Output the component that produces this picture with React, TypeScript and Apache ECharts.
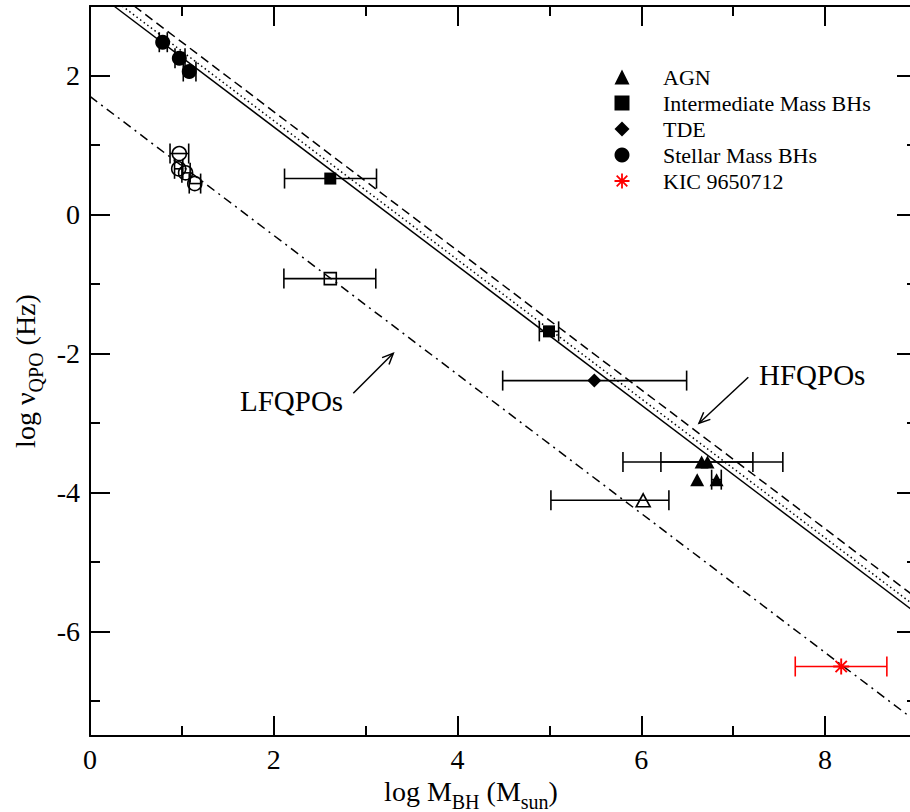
import React, { useEffect, useRef } from 'react';
import * as echarts from 'echarts';

const FONT = "'Liberation Serif', 'Times New Roman', serif";

// axis ticks
const xMajorTicks = [0, 2, 4, 6, 8];
const xMinorTicks = [1, 3, 5, 7];
const yMajorTicks = [-6, -4, -2, 0, 2];
const yMinorTicks = [-7, -5, -3, -1, 1];

// fit lines (endpoints in data units)
const hfSolid = [[0.26, 3], [9, -5.74]];
const hfDotted = [[0.35, 3], [9, -5.65]];
const hfDashed = [[0.48, 3], [9, -5.52]];
const lfDashDot = [[0, 1.7], [9, -7.3]];

// points [logM, logNu]
const agnFilled = [[6.656, -3.558], [6.72, -3.558], [6.608, -3.813], [6.819, -3.813]];
const agnOpen = [[6.02, -4.11]];
const imbhFilled = [[2.615, 0.518], [4.995, -1.68]];
const imbhOpen = [[2.615, -0.921]];
const tdeFilled = [[5.488, -2.388]];
const stellarFilled = [[0.791, 2.479], [0.972, 2.249], [1.08, 2.058]];
const stellarOpen = [[0.972, 0.878], [0.965, 0.658], [1.04, 0.6], [1.14, 0.446]];
const kicPoint = [[8.175, -6.5]];

// error bars [x, y, xLow, xHigh]
const errBlack = [
  [0.791, 2.479, 0.754, 0.841],
  [0.972, 2.249, 0.925, 1.034],
  [1.08, 2.058, 1.015, 1.153],
  [0.972, 0.878, 0.871, 1.074],
  [0.965, 0.658, 0.92, 1.01],
  [1.04, 0.6, 1.0, 1.09],
  [1.14, 0.446, 1.08, 1.204],
  [2.615, 0.518, 2.117, 3.118],
  [4.995, -1.68, 4.89, 5.1],
  [2.615, -0.921, 2.11, 3.11],
  [5.488, -2.388, 4.491, 6.493],
  [6.671, -3.558, 5.8, 7.54],
  [6.714, -3.558, 6.213, 7.214],
  [6.819, -3.813, 6.765, 6.87],
  [6.02, -4.11, 5.016, 6.3],
];
const errRed = [[8.175, -6.5, 7.675, 8.672]];

const legendNames = ['AGN', 'Intermediate Mass BHs', 'TDE', 'Stellar Mass BHs', 'KIC 9650712'];

const STAR =
  'path://M-1.2,-10L1.2,-10L1.2,10L-1.2,10Z M-10,-1.2L10,-1.2L10,1.2L-10,1.2Z M6.22,7.92L-7.92,-6.22L-6.22,-7.92L7.92,6.22Z M-6.22,7.92L-7.92,6.22L6.22,-7.92L7.92,-6.22Z';

function errSeries(data: number[][], color: string) {
  return {
    type: 'custom',
    name: 'err-' + color,
    data,
    encode: { x: [0, 2, 3], y: 1 },
    silent: true,
    z: 3,
    renderItem: (params: any, api: any) => {
      const y = api.value(1);
      const p1 = api.coord([api.value(2), y]);
      const p2 = api.coord([api.value(3), y]);
      const st = { stroke: color, lineWidth: 1.6 };
      return {
        type: 'group',
        children: [
          { type: 'line', shape: { x1: p1[0], y1: p1[1], x2: p2[0], y2: p2[1] }, style: st },
          { type: 'line', shape: { x1: p1[0], y1: p1[1] - 10, x2: p1[0], y2: p1[1] + 10 }, style: st },
          { type: 'line', shape: { x1: p2[0], y1: p2[1] - 10, x2: p2[0], y2: p2[1] + 10 }, style: st },
        ],
      };
    },
  };
}

function lineSeries(name: string, data: number[][], type: any) {
  return {
    type: 'line',
    name,
    data,
    symbol: 'none',
    silent: true,
    z: 2,
    lineStyle: { color: '#000', width: 1.5, type },
  };
}

function scatter(name: string, data: number[][], symbol: string, size: any, filled: boolean, color = '#000') {
  return {
    type: 'scatter',
    name,
    data,
    symbol,
    symbolSize: size,
    z: 5,
    itemStyle: filled
      ? { color, borderWidth: 0, opacity: 1 }
      : { color: 'rgba(0,0,0,0)', borderColor: color, borderWidth: 1.6, opacity: 1 },
  };
}

function arrow(x1: number, y1: number, x2: number, y2: number) {
  const a = Math.atan2(y2 - y1, x2 - x1);
  const len = 12;
  const ang = 0.42;
  const b1 = [x2 - len * Math.cos(a - ang), y2 - len * Math.sin(a - ang)];
  const b2 = [x2 - len * Math.cos(a + ang), y2 - len * Math.sin(a + ang)];
  const st = { stroke: '#000', lineWidth: 1.5, fill: 'none' };
  return [
    { type: 'line', shape: { x1, y1, x2, y2 }, style: st },
    { type: 'polyline', shape: { points: [b1, [x2, y2], b2] }, style: st },
  ];
}

const lineCol = { color: '#000', width: 2 };

const tickLabel = (margin: number) => ({
  show: true,
  margin,
  color: '#000',
  fontFamily: 'Liberation Serif',
  fontSize: 28,
  formatter: '{v|{value}}',
  rich: { v: { fontFamily: 'Liberation Serif', fontSize: 28, color: '#000' } },
});

function xAxisDef(position: string, ticks: number[], len: number, showLine: boolean, labels: boolean, extra: any = {}) {
  return {
    type: 'value',
    position,
    min: 0,
    max: 9,
    splitLine: { show: false },
    axisLine: { show: showLine, onZero: false, lineStyle: lineCol },
    axisTick: { show: true, inside: true, length: len, lineStyle: lineCol, customValues: ticks },
    axisLabel: labels ? { ...tickLabel(9), customValues: ticks } : { show: false },
    ...extra,
  };
}

function yAxisDef(position: string, ticks: number[], len: number, showLine: boolean, labels: boolean, extra: any = {}) {
  return {
    type: 'value',
    position,
    min: -7.5,
    max: 3,
    splitLine: { show: false },
    axisLine: { show: showLine, onZero: false, lineStyle: lineCol },
    axisTick: { show: true, inside: true, length: len, lineStyle: lineCol, customValues: ticks },
    axisLabel: labels ? { ...tickLabel(10), customValues: ticks } : { show: false },
    ...extra,
  };
}

const richName = {
  n: { fontSize: 28, fontFamily: FONT, color: '#000', verticalAlign: 'top', lineHeight: 30 },
  s: { fontSize: 20, fontFamily: FONT, color: '#000', verticalAlign: 'top', lineHeight: 20, padding: [14, 0, 0, 0] },
};

export default function App() {
  const ref = useRef<HTMLDivElement>(null);
  useEffect(() => {
    const chart = echarts.init(ref.current!, null, { renderer: 'svg' });
    const option: any = {
      animation: false,
      backgroundColor: '#fff',
      textStyle: { fontFamily: FONT },
      grid: { left: 90, right: -7, top: 6, bottom: 76, containLabel: false, outerBoundsMode: 'none' },
      xAxis: [
        xAxisDef('bottom', xMajorTicks, 20, true, true, {
          name: '{n|log M}{s|BH}{n| (M}{s|sun}{n|)}',
          nameLocation: 'middle',
          nameGap: 27,
          nameTextStyle: { fontFamily: FONT, fontSize: 28, color: '#000', padding: [0, 65, 0, 0], rich: richName },
        }),
        xAxisDef('bottom', xMinorTicks, 10, false, false),
        xAxisDef('top', xMajorTicks, 20, true, false),
        xAxisDef('top', xMinorTicks, 10, false, false),
      ],
      yAxis: [
        yAxisDef('left', yMajorTicks, 20, true, true, {
          name: '{n|log ν}{s|QPO}{n| (Hz)}',
          nameLocation: 'middle',
          nameGap: 46,
          nameTextStyle: { fontFamily: FONT, fontSize: 28, color: '#000', rich: richName },
        }),
        yAxisDef('left', yMinorTicks, 10, false, false),
        yAxisDef('right', yMajorTicks, 20, true, false),
        yAxisDef('right', yMinorTicks, 10, false, false),
      ],
      legend: {
        orient: 'vertical',
        left: 614.5,
        top: 66,
        itemWidth: 15,
        itemHeight: 15,
        itemGap: 4,
        selectedMode: false,
        padding: 0,
        data: [
          { name: legendNames[0], icon: 'triangle' },
          { name: legendNames[1], icon: 'rect' },
          { name: legendNames[2], icon: 'diamond' },
          { name: legendNames[3], icon: 'circle' },
          { name: legendNames[4], icon: STAR },
        ],
        formatter: (n: string) => `{g|}{t|${n}}`,
        textStyle: {
          color: '#000',
          fontFamily: FONT,
          fontSize: 22,
          rich: {
            g: { width: 28.5 },
            t: { fontSize: 22, fontFamily: FONT, color: '#000', lineHeight: 22 },
          },
        },
      },
      graphic: [
        {
          type: 'text',
          x: 759,
          y: 375,
          style: { text: 'HFQPOs', fill: '#000', font: `29px ${FONT}`, verticalAlign: 'middle', align: 'left' },
        },
        {
          type: 'text',
          x: 240,
          y: 401,
          style: { text: 'LFQPOs', fill: '#000', font: `29px ${FONT}`, verticalAlign: 'middle', align: 'left' },
        },
        ...arrow(748.3, 377.3, 699, 423.3),
        ...arrow(353.3, 393.3, 393.3, 353.3),
      ],
      series: [
        lineSeries('HF solid', hfSolid, 'solid'),
        lineSeries('HF dotted', hfDotted, [1.5, 3]),
        lineSeries('HF dashed', hfDashed, [9, 5]),
        lineSeries('LF dashdot', lfDashDot, [9, 5, 2, 5]),
        errSeries(errBlack, '#000'),
        errSeries(errRed, '#ff0000'),
        scatter(legendNames[0], agnFilled, 'triangle', [14, 13], true),
        scatter('AGN LF', agnOpen, 'triangle', [14, 13], false),
        scatter(legendNames[1], imbhFilled, 'rect', 12, true),
        scatter('IMBH LF', imbhOpen, 'rect', 12, false),
        scatter(legendNames[2], tdeFilled, 'diamond', 14, true),
        scatter(legendNames[3], stellarFilled, 'circle', 15, true),
        scatter('Stellar LF', stellarOpen, 'circle', 14, false),
        scatter(legendNames[4], kicPoint, STAR, 16, true, '#ff0000'),
      ],
    };
    chart.setOption(option);
    return () => chart.dispose();
  }, []);
  return <div ref={ref} style={{ position: 'absolute', left: 0, top: 0, width: 910, height: 812 }} />;
}
